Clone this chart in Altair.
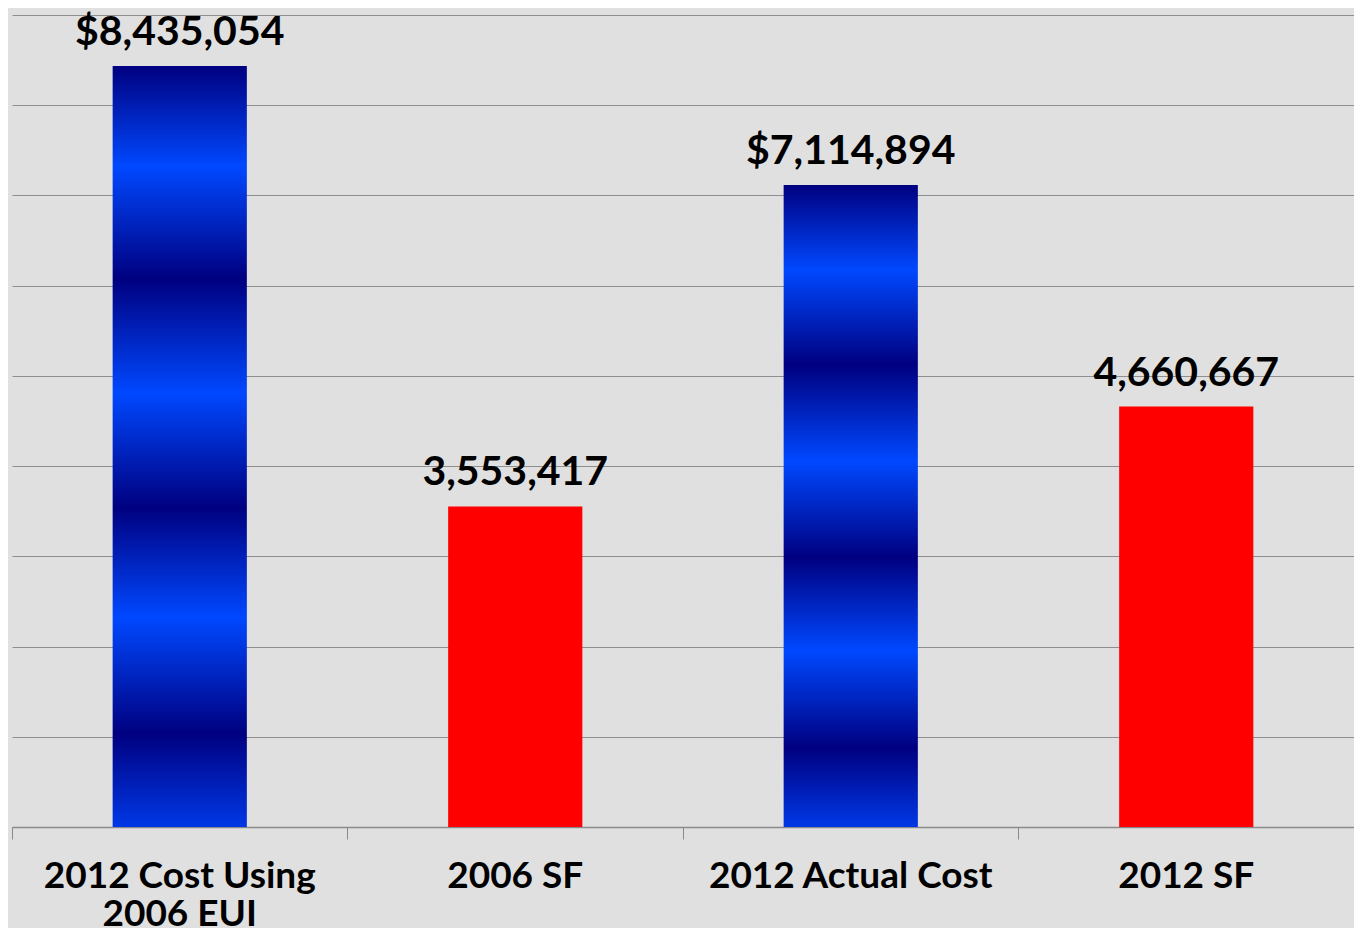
import altair as alt
import pandas as pd

categories = ["2012 Cost Using 2006 EUI", "2006 SF", "2012 Actual Cost", "2012 SF"]
values = [8435054, 3553417, 7114894, 4660667]
kinds = ["cost", "sf", "cost", "sf"]
y_ticks = [0, 1000000, 2000000, 3000000, 4000000, 5000000, 6000000, 7000000, 8000000, 9000000]

df = pd.DataFrame({"category": categories, "value": values, "kind": kinds})

W = 1342
H = 812
FONT = "Lato"

blue_grad = alt.LinearGradient(
    gradient="linear",
    x1=0, y1=0, x2=0, y2=1,
    stops=[
        alt.GradientStop(color="#000080", offset=0.0),
        alt.GradientStop(color="#0048ff", offset=0.132),
        alt.GradientStop(color="#000080", offset=0.28),
        alt.GradientStop(color="#0048ff", offset=0.43),
        alt.GradientStop(color="#000080", offset=0.58),
        alt.GradientStop(color="#0048ff", offset=0.725),
        alt.GradientStop(color="#000080", offset=0.877),
        alt.GradientStop(color="#0038e6", offset=1.0),
    ],
)

x_enc = alt.X(
    "category:N",
    sort=categories,
    scale=alt.Scale(paddingInner=0, paddingOuter=0),
    title=None,
    axis=alt.Axis(
        bandPosition=0,
        labelAlign="center",
        labelAngle=0,
        labelFont=FONT,
        labelFontSize=37,
        labelFontWeight="bold",
        labelColor="#000000",
        labelPadding=19,
        labelLineHeight=38,
        labelLimit=0,
        labelExpr="datum.label == '2012 Cost Using 2006 EUI' ? ['2012 Cost Using', '2006 EUI'] : datum.label",
        ticks=True,
        tickSize=12,
        tickColor="#8a8a8a",
        domainColor="#8a8a8a",
        domainWidth=1.5,
        grid=False,
    ),
)
y_enc = alt.Y(
    "value:Q",
    scale=alt.Scale(domain=[0, 9000000], nice=False),
    title=None,
    axis=alt.Axis(
        values=y_ticks,
        labels=False,
        ticks=False,
        domain=False,
        grid=True,
        gridColor="#8f8f8f",
        gridWidth=1.2,
    ),
)

base = alt.Chart(df).encode(x=x_enc, y=y_enc)

cost_bars = base.transform_filter(alt.datum.kind == "cost").mark_bar(
    width=alt.RelativeBandSize(0.4), color=blue_grad
)
sf_bars = base.transform_filter(alt.datum.kind == "sf").mark_bar(
    width=alt.RelativeBandSize(0.4), color="#ff0000"
)
cost_text = base.transform_filter(alt.datum.kind == "cost").mark_text(
    font=FONT, fontSize=41, fontWeight="bold", color="#000000", baseline="alphabetic", dy=-21
).encode(text=alt.Text("value:Q", format="$,.0f"))
sf_text = base.transform_filter(alt.datum.kind == "sf").mark_text(
    font=FONT, fontSize=41, fontWeight="bold", color="#000000", baseline="alphabetic", dy=-21
).encode(text=alt.Text("value:Q", format=",.0f"))

chart = (
    alt.layer(cost_bars, sf_bars, cost_text, sf_text)
    .properties(
        width=W,
        height=H,
        autosize=alt.AutoSizeParams(type="none"),
        padding={"left": 4, "top": 7, "right": 0, "bottom": 101},
        background="#e0e0e0",
    )
    .configure_view(stroke=None)
)

chart.save("out.html", embed_options={"renderer": "svg", "actions": False})
